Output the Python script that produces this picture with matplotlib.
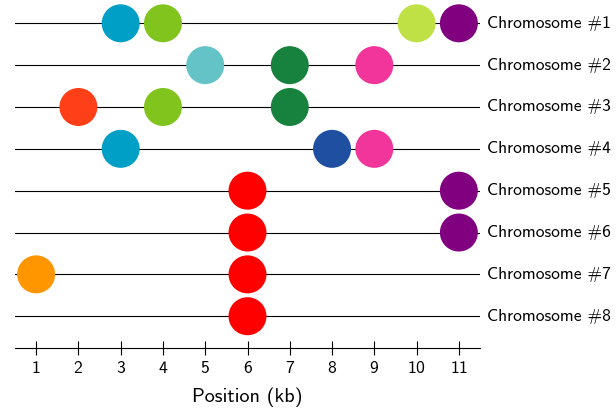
import matplotlib.pyplot as plt
from matplotlib.patches import Ellipse

plt.rcParams["font.family"] = ["cmss10", "DejaVu Sans"]
plt.rcParams["axes.formatter.use_mathtext"] = True

# marker positions (kb) and colours for each chromosome
chromosomes = ["Chromosome #1", "Chromosome #2", "Chromosome #3", "Chromosome #4",
               "Chromosome #5", "Chromosome #6", "Chromosome #7", "Chromosome #8"]
positions = [
    [3, 4, 10, 11],
    [5, 7, 9],
    [2, 4, 7],
    [3, 8, 9],
    [6, 11],
    [6, 11],
    [1, 6],
    [6],
]
colors = [
    ["#00a0c6", "#82c41e", "#bfe145", "#800080"],
    ["#64c3c7", "#16823d", "#f2359a"],
    ["#ff3f17", "#82c41e", "#16823d"],
    ["#00a0c6", "#1f4fa1", "#f2359a"],
    ["#ff0000", "#800080"],
    ["#ff0000", "#800080"],
    ["#ff9600", "#ff0000"],
    ["#ff0000"],
]
xticks = list(range(1, 12))

fig = plt.figure(figsize=(6.16, 4.09), dpi=100)
ax = fig.add_axes([15 / 616, 60.7 / 409, 465 / 616, 348.3 / 409])

for row, (label, xs, cs) in enumerate(zip(chromosomes, positions, colors), start=1):
    ax.axhline(row, color="black", linewidth=0.8, zorder=1)
    for x, c in zip(xs, cs):
        # circles: 38 px across in both directions
        ax.add_patch(Ellipse((x, row), width=0.898, height=0.908,
                             facecolor=c, edgecolor="none", zorder=2))
    ax.annotate(label, xy=(1, row), xycoords=("axes fraction", "data"),
                xytext=(5, 0), textcoords="offset points",
                va="center", ha="left", fontsize=12.6)

ax.set_xlim(0.5, 11.5)
ax.set_ylim(8.767, 0.443)
ax.set_xticks(xticks)
ax.set_yticks([])
for side in ("top", "left", "right"):
    ax.spines[side].set_visible(False)
ax.spines["bottom"].set_linewidth(0.8)
ax.tick_params(axis="x", direction="inout", length=9.4, width=0.8,
               labelsize=12.7, pad=4)
ax.set_xlabel("Position (kb)", fontsize=14.5, va="center")
ax.xaxis.set_label_coords(0.5, -48.7 / 348.3)

fig.savefig("out.png", dpi=100)
